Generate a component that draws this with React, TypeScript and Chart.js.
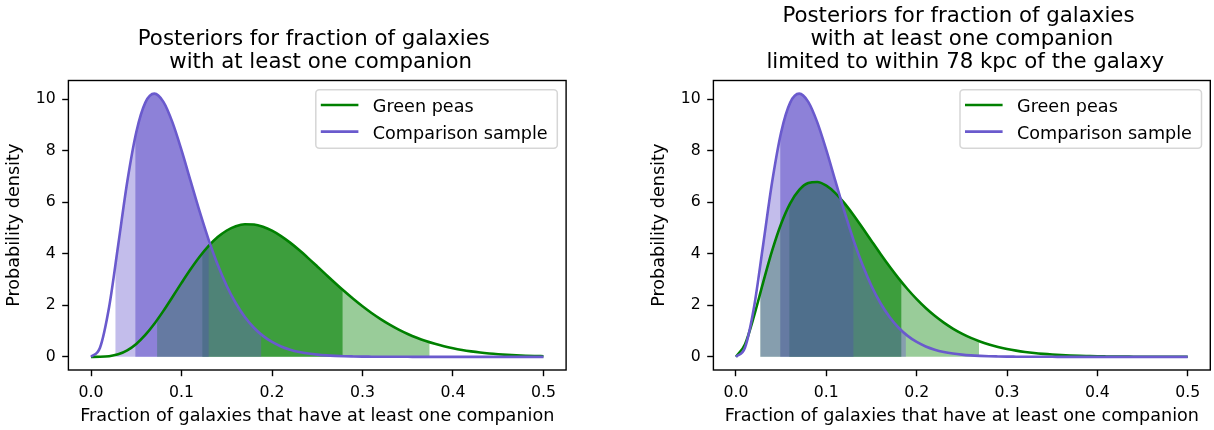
import React, { useEffect, useRef } from 'react';
import { Chart, registerables } from 'chart.js';

Chart.register(...registerables);

const FONT = '"DejaVu Sans", "Liberation Sans", sans-serif';
const GREEN = '#008000';
const PURPLE = '#6a5acd';

// ---- data ----
const fractionGrid = [
  0, 0.01, 0.02, 0.03, 0.04, 0.05, 0.06, 0.07, 0.08, 0.09,
  0.1, 0.11, 0.12, 0.13, 0.14, 0.15, 0.16, 0.17, 0.18, 0.19,
  0.2, 0.21, 0.22, 0.23, 0.24, 0.25, 0.26, 0.27, 0.28, 0.29,
  0.3, 0.31, 0.32, 0.33, 0.34, 0.35, 0.36, 0.37, 0.38, 0.39,
  0.4, 0.41, 0.42, 0.43, 0.44, 0.45, 0.46, 0.47, 0.48, 0.49, 0.5,
];

const comparisonDensity = [
  0, 0.363, 1.936, 4.335, 6.789, 8.722, 9.871, 10.219, 9.899, 9.103,
  8.025, 6.832, 5.645, 4.544, 3.574, 2.753, 2.081, 1.546, 1.13, 0.814,
  0.577, 0.404, 0.279, 0.19, 0.128, 0.085, 0.056, 0.037, 0.023, 0.015,
  0.009, 0.006, 0.004, 0.002, 0.001, 0.001, 0, 0, 0, 0,
  0, 0, 0, 0, 0, 0, 0, 0, 0, 0, 0,
];

const greenPeasDensity = [
  0, 0.002, 0.023, 0.097, 0.251, 0.501, 0.85, 1.285, 1.785, 2.324,
  2.871, 3.399, 3.884, 4.306, 4.649, 4.906, 5.072, 5.149, 5.14, 5.054,
  4.901, 4.69, 4.435, 4.146, 3.834, 3.51, 3.182, 2.858, 2.543, 2.243,
  1.962, 1.702, 1.465, 1.25, 1.058, 0.889, 0.741, 0.613, 0.504, 0.41,
  0.332, 0.266, 0.212, 0.167, 0.131, 0.102, 0.078, 0.06, 0.045, 0.034, 0.025,
];

const greenPeas78kpcDensity = [
  0, 0.492, 1.589, 2.883, 4.123, 5.17, 5.961, 6.482, 6.747, 6.788,
  6.645, 6.359, 5.969, 5.51, 5.013, 4.501, 3.994, 3.507, 3.048, 2.624,
  2.24, 1.896, 1.593, 1.328, 1.099, 0.903, 0.737, 0.597, 0.481, 0.384,
  0.305, 0.241, 0.189, 0.147, 0.114, 0.088, 0.067, 0.051, 0.038, 0.029,
  0.021, 0.016, 0.012, 0.008, 0.006, 0.004, 0.003, 0.002, 0.002, 0.001, 0.001,
];

const comparisonOneSigma = [0.049, 0.13];
const comparisonTwoSigma = [0.027, 0.188];
const greenPeasOneSigma = [0.123, 0.278];
const greenPeasTwoSigma = [0.073, 0.374];
const greenPeas78OneSigma = [0.059, 0.183];
const greenPeas78TwoSigma = [0.027, 0.269];

const xTickValues = [0, 0.1, 0.2, 0.3, 0.4, 0.5];
const yTickValues = [0, 2, 4, 6, 8, 10];

const seriesLabels = ['Green peas', 'Comparison sample'];
const leftTitle = ['Posteriors for fraction of galaxies ', ' with at least one companion'];
const rightTitle = [
  'Posteriors for fraction of galaxies ',
  'with at least one companion',
  ' limited to within 78 kpc of the galaxy',
];
const xAxisLabel = 'Fraction of galaxies that have at least one companion';
const yAxisLabel = 'Probability density';

// ---- helpers ----
const toPoints = (ys: number[]) => fractionGrid.map((x, i) => ({ x, y: ys[i] }));
const rgba = (hex: string, a: number) => {
  const n = parseInt(hex.slice(1), 16);
  return `rgba(${(n >> 16) & 255},${(n >> 8) & 255},${n & 255},${a})`;
};

type Band = { dataset: number; range: number[]; color: string };

function makeBandPlugin(bands: Band[]) {
  return {
    id: 'credibleBands',
    beforeDatasetsDraw(chart: any) {
      const { ctx, chartArea } = chart;
      const xs = chart.scales.x;
      const ys = chart.scales.y;
      const yBase = ys.getPixelForValue(0);
      for (const band of bands) {
        const meta = chart.getDatasetMeta(band.dataset);
        const line = meta.dataset;
        if (!line) continue;
        line.updateControlPoints(chartArea, 'x');
        const pts = line.points;
        const x0 = xs.getPixelForValue(band.range[0]);
        const x1 = xs.getPixelForValue(band.range[1]);
        ctx.save();
        ctx.beginPath();
        ctx.rect(x0, chartArea.top, x1 - x0, chartArea.bottom - chartArea.top);
        ctx.clip();
        ctx.beginPath();
        line.path(ctx);
        ctx.lineTo(pts[pts.length - 1].x, yBase);
        ctx.lineTo(pts[0].x, yBase);
        ctx.closePath();
        ctx.fillStyle = band.color;
        ctx.fill();
        ctx.restore();
      }
    },
  };
}

const framePlugin = {
  id: 'axesFrame',
  afterDatasetsDraw(chart: any) {
    const { ctx, chartArea: a } = chart;
    ctx.save();
    ctx.strokeStyle = '#000';
    ctx.lineWidth = 1.4;
    ctx.strokeRect(a.left, a.top, a.right - a.left, a.bottom - a.top);
    ctx.restore();
  },
};

function makeLegendPlugin(labels: string[], colors: string[]) {
  return {
    id: 'mplLegend',
    afterDraw(chart: any) {
      const { ctx, chartArea: a } = chart;
      const w = 241.5;
      const h = 58.5;
      const fx = a.right - 8.8 - w;
      const fy = a.top + 9.3;
      const r = 3.5;
      ctx.save();
      ctx.beginPath();
      ctx.moveTo(fx + r, fy);
      ctx.lineTo(fx + w - r, fy);
      ctx.arcTo(fx + w, fy, fx + w, fy + r, r);
      ctx.lineTo(fx + w, fy + h - r);
      ctx.arcTo(fx + w, fy + h, fx + w - r, fy + h, r);
      ctx.lineTo(fx + r, fy + h);
      ctx.arcTo(fx, fy + h, fx, fy + h - r, r);
      ctx.lineTo(fx, fy + r);
      ctx.arcTo(fx, fy, fx + r, fy, r);
      ctx.closePath();
      ctx.fillStyle = 'rgba(255,255,255,0.8)';
      ctx.fill();
      ctx.strokeStyle = 'rgba(204,204,204,0.8)';
      ctx.lineWidth = 1.5;
      ctx.stroke();
      labels.forEach((label, i) => {
        const ly = fy + 15.2 + i * 26.6;
        ctx.beginPath();
        ctx.moveTo(fx + 5, ly);
        ctx.lineTo(fx + 42.6, ly);
        ctx.strokeStyle = colors[i];
        ctx.lineWidth = 2.6;
        ctx.stroke();
        ctx.fillStyle = '#000';
        ctx.font = `17.6px ${FONT}`;
        ctx.textAlign = 'left';
        ctx.textBaseline = 'alphabetic';
        ctx.fillText(label, fx + 57, fy + 22.2 + i * 26.6);
      });
      ctx.restore();
    },
  };
}

type PanelProps = {
  left: number;
  width: number;
  padRight: number;
  title: string[];
  titlePadTop: number;
  green: number[];
  greenOne: number[];
  greenTwo: number[];
};

function Panel({ left, width, padRight, title, titlePadTop, green, greenOne, greenTwo }: PanelProps) {
  const ref = useRef<HTMLCanvasElement>(null);
  useEffect(() => {
    if (!ref.current) return;
    // 1-sigma bands of both samples first, then the 2-sigma bands on top
    const bands: Band[] = [
      { dataset: 0, range: greenOne, color: rgba(GREEN, 0.6) },
      { dataset: 1, range: comparisonOneSigma, color: rgba(PURPLE, 0.6) },
      { dataset: 0, range: greenTwo, color: rgba(GREEN, 0.4) },
      { dataset: 1, range: comparisonTwoSigma, color: rgba(PURPLE, 0.4) },
    ];
    const chart = new Chart(ref.current, {
      type: 'line',
      data: {
        datasets: [
          {
            label: seriesLabels[0],
            data: toPoints(green),
            borderColor: GREEN,
            borderWidth: 2.6,
            borderJoinStyle: 'round',
            pointRadius: 0,
            fill: false,
            cubicInterpolationMode: 'monotone',
            order: 1,
          },
          {
            label: seriesLabels[1],
            data: toPoints(comparisonDensity),
            borderColor: PURPLE,
            borderWidth: 2.6,
            borderJoinStyle: 'round',
            pointRadius: 0,
            fill: false,
            cubicInterpolationMode: 'monotone',
            order: 0,
          },
        ],
      },
      options: {
        responsive: false,
        animation: false,
        devicePixelRatio: 1,
        events: [],
        layout: { padding: { left: 0, right: padRight, top: 0, bottom: 0 } },
        plugins: {
          legend: { display: false },
          tooltip: { enabled: false },
          title: {
            display: true,
            text: title,
            fullSize: false,
            color: '#000',
            font: { family: FONT, size: 21.3, weight: 'normal', lineHeight: 23.15 / 21.3 },
            padding: { top: titlePadTop, bottom: 6.3 },
          },
        },
        scales: {
          x: {
            type: 'linear',
            min: -0.025,
            max: 0.525,
            afterBuildTicks: (s: any) => {
              s.ticks = xTickValues.map((v) => ({ value: v }));
            },
            afterFit: (s: any) => {
              s.height = 60;
              s.paddingLeft = 0;
              s.paddingRight = 0;
            },
            grid: {
              display: true,
              drawOnChartArea: false,
              drawTicks: true,
              tickLength: 6.2,
              tickWidth: 1.4,
              tickColor: '#000',
              color: '#000',
            },
            border: { display: false },
            ticks: {
              color: '#000',
              font: { family: FONT, size: 15.7 },
              padding: 7,
              maxRotation: 0,
              autoSkip: false,
              callback: (v: any) => Number(v).toFixed(1),
            },
            title: {
              display: true,
              text: xAxisLabel,
              color: '#000',
              font: { family: FONT, size: 17.6 },
              padding: { top: 0, bottom: 3.24 },
            },
          },
          y: {
            type: 'linear',
            min: -0.511,
            max: 10.73,
            afterBuildTicks: (s: any) => {
              s.ticks = yTickValues.map((v) => ({ value: v }));
            },
            afterFit: (s: any) => {
              s.width = 68.4;
              s.paddingTop = 0;
              s.paddingBottom = 0;
            },
            grid: {
              display: true,
              drawOnChartArea: false,
              drawTicks: true,
              tickLength: 6.2,
              tickWidth: 1.4,
              tickColor: '#000',
              color: '#000',
            },
            border: { display: false },
            ticks: {
              color: '#000',
              font: { family: FONT, size: 15.7 },
              padding: 6.4,
              autoSkip: false,
              callback: (v: any) => String(v),
            },
            title: {
              display: true,
              text: yAxisLabel,
              color: '#000',
              font: { family: FONT, size: 17.6 },
              padding: { top: 3.94, bottom: 0 },
            },
          },
        },
      } as any,
      plugins: [makeBandPlugin(bands), framePlugin, makeLegendPlugin(seriesLabels, [GREEN, PURPLE])],
    });
    return () => chart.destroy();
  }, []);
  return (
    <canvas
      ref={ref}
      width={width}
      height={430}
      style={{ position: 'absolute', left, top: 0, width, height: 430, display: 'block' }}
    />
  );
}

export default function App() {
  return (
    <div
      style={{
        position: 'fixed',
        left: 0,
        top: 0,
        width: 1214,
        height: 430,
        background: '#fff',
        overflow: 'hidden',
      }}
    >
      <Panel
        left={0}
        width={645}
        padRight={78.9}
        title={leftTitle}
        titlePadTop={27.9}
        green={greenPeasDensity}
        greenOne={greenPeasOneSigma}
        greenTwo={greenPeasTwoSigma}
      />
      <Panel
        left={645}
        width={569}
        padRight={3.7}
        title={rightTitle}
        titlePadTop={4.75}
        green={greenPeas78kpcDensity}
        greenOne={greenPeas78OneSigma}
        greenTwo={greenPeas78TwoSigma}
      />
    </div>
  );
}
